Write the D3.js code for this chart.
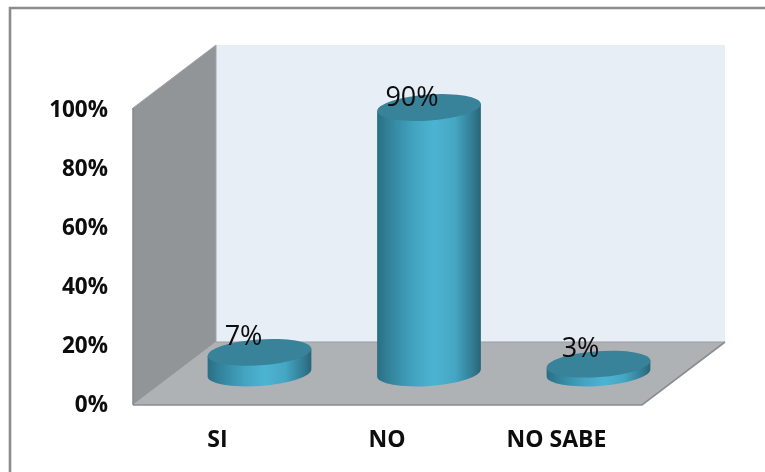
<!DOCTYPE html>
<html><head><meta charset="utf-8">
<script src="https://cdn.jsdelivr.net/npm/d3@7"></script>
<style>html,body{margin:0;padding:0;background:#fff}svg{display:block}text{font-family:"Open Sans","Noto Sans",sans-serif;fill:#0a0a0a}</style>
</head><body><svg id="c" width="765" height="472"></svg>
<script>
const categories = ["SI","NO","NO SABE"];
const values = [7,90,3];
const valueLabels = ["7%","90%","3%"];
const tickValues = [0,20,40,60,80,100];

const svg = d3.select("#c");
const defs = svg.append("defs");
const grad = defs.append("linearGradient").attr("id","cyl");
[[0,"#2a6f83"],[0.12,"#33839c"],[0.35,"#43a3c0"],[0.55,"#4cb4d2"],[0.75,"#45a6c3"],[0.92,"#317c93"],[1,"#2a6577"]]
  .forEach(([o,c])=>grad.append("stop").attr("offset",o).attr("stop-color",c));
defs.append("filter").attr("id","soft")
  .attr("filterUnits","userSpaceOnUse").attr("x",0).attr("y",0).attr("width",765).attr("height",472)
  .append("feGaussianBlur").attr("stdDeviation",0.45);
const root = svg.append("g").attr("filter","url(#soft)");

const y = d3.scaleLinear().domain([0,100]).range([403,108]);
const xLabel = d3.scalePoint().domain(categories).range([217,556]);
const dx = 83, dy = 63;            // depth of the 3D box
const bx = 42.5, baseY = 373;      // bar offset from the front plane
const rx = 52, ry = 13, tilt = -4;

// outer frame: only its top and left edges fall inside the picture
root.append("path").attr("d","M766,8 L10,8 L10,473")
  .attr("fill","none").attr("stroke","#8c8c8c").attr("stroke-width",2.6);

const boxL = 133, boxR = 642, boxB = y(0)+2, boxT = y(100);
// back wall
root.append("rect").attr("x",boxL+dx).attr("y",boxT-dy).attr("width",boxR-boxL).attr("height",boxB-boxT)
  .attr("fill","#e7eef6");
// side wall
root.append("path").attr("d",d3.line()([[boxL,boxT],[boxL+dx,boxT-dy],[boxL+dx,boxB-dy],[boxL,boxB]]))
  .attr("fill","#929598").attr("stroke","#a2a5a8").attr("stroke-width",1);
// floor
root.append("path").attr("d",d3.line()([[boxL,boxB],[boxL+dx,boxB-dy],[boxR+dx,boxB-dy],[boxR,boxB]])+"Z")
  .attr("fill","#aeb2b5");
root.append("path").attr("d",d3.line()([[boxL,boxB],[boxR,boxB],[boxR+dx,boxB-dy]]))
  .attr("fill","none").attr("stroke","#8a8d90").attr("stroke-width",1.6);
root.append("path").attr("d",d3.line()([[boxL+dx,boxB-dy],[boxR+dx,boxB-dy]]))
  .attr("fill","none").attr("stroke","#9a9da0").attr("stroke-width",1);
root.append("path").attr("d",d3.line()([[boxL,boxT],[boxL,boxB]]))
  .attr("fill","none").attr("stroke","#85888b").attr("stroke-width",1.5);

// y axis
const yAxis = d3.axisLeft(y).tickValues(tickValues).tickFormat(d=>d+"%").tickSize(0).tickPadding(0);
const gy = root.append("g").attr("transform","translate(108,0)").call(yAxis);
gy.select(".domain").remove();
gy.selectAll("text").attr("font-size",22.5).attr("font-weight",700).attr("style","fill:#0a0a0a").attr("dy","0.36em");

// x axis
const xAxis = d3.axisBottom(xLabel).tickSize(0).tickPadding(0);
const gx = root.append("g").attr("transform","translate(0,431)").call(xAxis);
gx.select(".domain").remove();
gx.selectAll("text").attr("font-size",23).attr("font-weight",700).attr("style","fill:#0a0a0a").attr("dy","0.71em");

// cylinders
const h = v => y(0)-y(v);
const a = tilt*Math.PI/180;
const tdx = rx*Math.cos(a), tdy = rx*Math.sin(a);
const g = root.selectAll("g.bar").data(categories.map((c,i)=>({c,v:values[i],l:valueLabels[i]}))).join("g").attr("class","bar")
  .attr("transform",d=>`translate(${xLabel(d.c)+bx},0)`);
g.append("path")
  .attr("d",d=>{
    const t = baseY-h(d.v);
    return `M${-tdx},${t-tdy} L${-tdx},${baseY-tdy} A${rx},${ry} ${tilt} 0 0 ${tdx},${baseY+tdy} L${tdx},${t+tdy} Z`;
  })
  .attr("fill","url(#cyl)");
g.append("ellipse").attr("rx",rx).attr("ry",ry)
  .attr("transform",d=>`translate(0,${baseY-h(d.v)}) rotate(${tilt})`)
  .attr("fill","#37829a");
g.append("text").text(d=>d.l)
  .attr("text-anchor","middle").attr("font-size",27).attr("font-weight",500)
  .attr("x",d=>d.c==="NO"?-17:(d.c==="SI"?-16:-18))
  .attr("y",d=>baseY-h(d.v)-7+(d.c==="NO"?5:0));
</script></body></html>
